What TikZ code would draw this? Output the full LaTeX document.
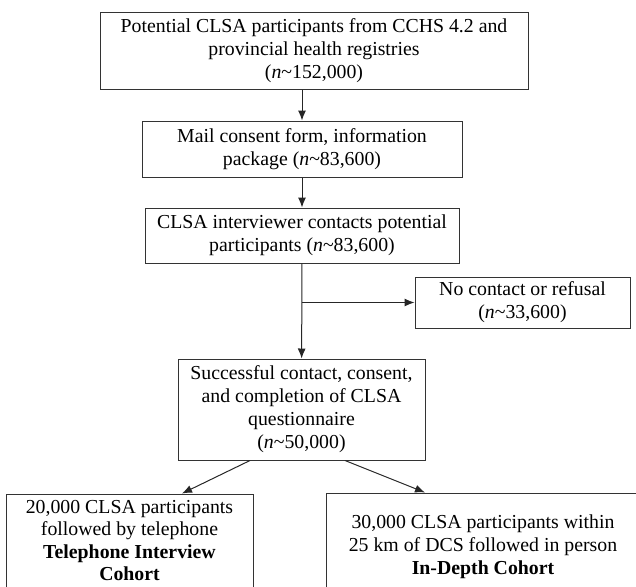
\documentclass[tikz,border=0pt]{standalone}
\usepackage{fontspec}
\setmainfont{Liberation Serif}
\usetikzlibrary{arrows.meta}
\newcommand{\ncount}[1]{(\textit{n}\textasciitilde#1)}

\begin{document}
\begin{tikzpicture}[x=1pt,y=-1pt,
    box/.style={draw=black!80, line width=1pt, align=center, inner sep=0pt,
      font=\fontsize{19.8}{23}\selectfont},
    flow/.style={draw=black!85, line width=1pt, -{Latex[length=10pt,width=8pt]}}]
  \useasboundingbox (0,0) rectangle (636,586);

  \node[box, minimum width=428pt, minimum height=76pt] (pool) at (314,51)
    {Potential CLSA participants from CCHS 4.2 and\\ provincial health registries\\ \ncount{152,000}};
  \node[box, minimum width=320pt, minimum height=56pt] (mail) at (302,149)
    {Mail consent form, information\\ package \ncount{83,600}};
  \node[box, minimum width=314pt, minimum height=55pt] (contact) at (302,235.5)
    {CLSA interviewer contacts potential\\ participants \ncount{83,600}};
  \node[box, minimum width=215pt, minimum height=51pt] (refusal) at (522.5,302.5)
    {No contact or refusal\\ \ncount{33,600}};
  \node[box, minimum width=247pt, minimum height=101pt] (success) at (301.5,409.5)
    {Successful contact, consent,\\ and completion of CLSA\\ questionnaire\\ \ncount{50,000}};
  \node[box, minimum width=247pt, minimum height=93pt,
        font=\fontsize{19.8}{22.5}\selectfont] (phone) at (129.5,540.5)
    {20,000 CLSA participants\\ followed by telephone\\ \textbf{Telephone Interview}\\ \textbf{Cohort}};
  \node[box, minimum width=314pt, minimum height=108pt] (indepth) at (483,547)
    {30,000 CLSA participants within\\ 25 km of DCS followed in person\\ \textbf{In-Depth Cohort}};

  \coordinate (split) at (contact.south |- refusal.west);

  \draw[flow] (mail.north |- pool.south) -- (mail.north);
  \draw[flow] (mail) -- (contact);
  \draw[flow] (contact) -- (success);
  \draw[flow] (split) -- (refusal);
  \draw[flow] ([xshift=-51.5pt]success.south) -- ([xshift=52.5pt]phone.north);
  \draw[flow] ([xshift=43.5pt]success.south) -- ([xshift=-58pt]indepth.north);
\end{tikzpicture}
\end{document}
